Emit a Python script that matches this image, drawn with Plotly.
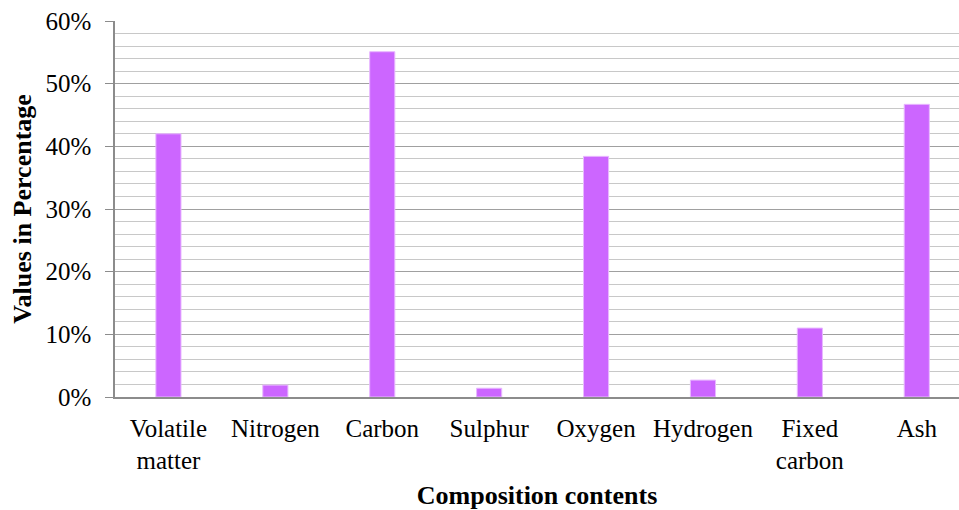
import plotly.graph_objects as go

# Composition of the sample, in percent
categories = ["Volatile<br>matter", "Nitrogen", "Carbon", "Sulphur", "Oxygen",
              "Hydrogen", "Fixed<br>carbon", "Ash"]
values = [42.0, 1.9, 55.1, 1.4, 38.4, 2.7, 11.0, 46.7]
y_ticks = [0, 10, 20, 30, 40, 50, 60]
y_tick_labels = ["0%", "10%", "20%", "30%", "40%", "50%", "60%"]

serif = "Liberation Serif, Times New Roman, serif"

fig = go.Figure(
    go.Bar(
        x=list(range(len(categories))),
        y=values,
        marker=dict(color="#CC66FF", line=dict(color="#E8B8FF", width=1)),
        width=0.235,
    )
)

fig.update_layout(
    width=959,
    height=510,
    margin=dict(l=115, r=0, t=21, b=113),
    paper_bgcolor="white",
    plot_bgcolor="white",
    showlegend=False,
    font=dict(family=serif, size=25, color="black"),
)

fig.update_xaxes(
    tickmode="array",
    tickvals=list(range(len(categories))),
    ticktext=categories,
    range=[-0.5, 7.395],
    showgrid=False,
    showline=True,
    linecolor="#8c8c8c",
    linewidth=1.5,
    ticks="",
    ticklabelstandoff=8,
    tickfont=dict(family=serif, size=25),
    title=dict(text="<b>Composition contents</b>", font=dict(family=serif, size=26), standoff=16),
)

fig.update_yaxes(
    range=[0, 60],
    tickmode="array",
    tickvals=y_ticks,
    ticktext=y_tick_labels,
    showgrid=True,
    gridcolor="#a0a0a0",
    gridwidth=1,
    minor=dict(dtick=2, showgrid=True, gridcolor="#c8c8c8", gridwidth=1),
    showline=True,
    linecolor="#8c8c8c",
    linewidth=1.5,
    ticks="outside",
    ticklen=8,
    tickcolor="#8c8c8c",
    ticklabelstandoff=9,
    tickfont=dict(family=serif, size=25),
    zeroline=False,
    title=dict(text="<b>Values in Percentage</b>", font=dict(family=serif, size=26), standoff=6),
)

fig.write_html("out.html")
